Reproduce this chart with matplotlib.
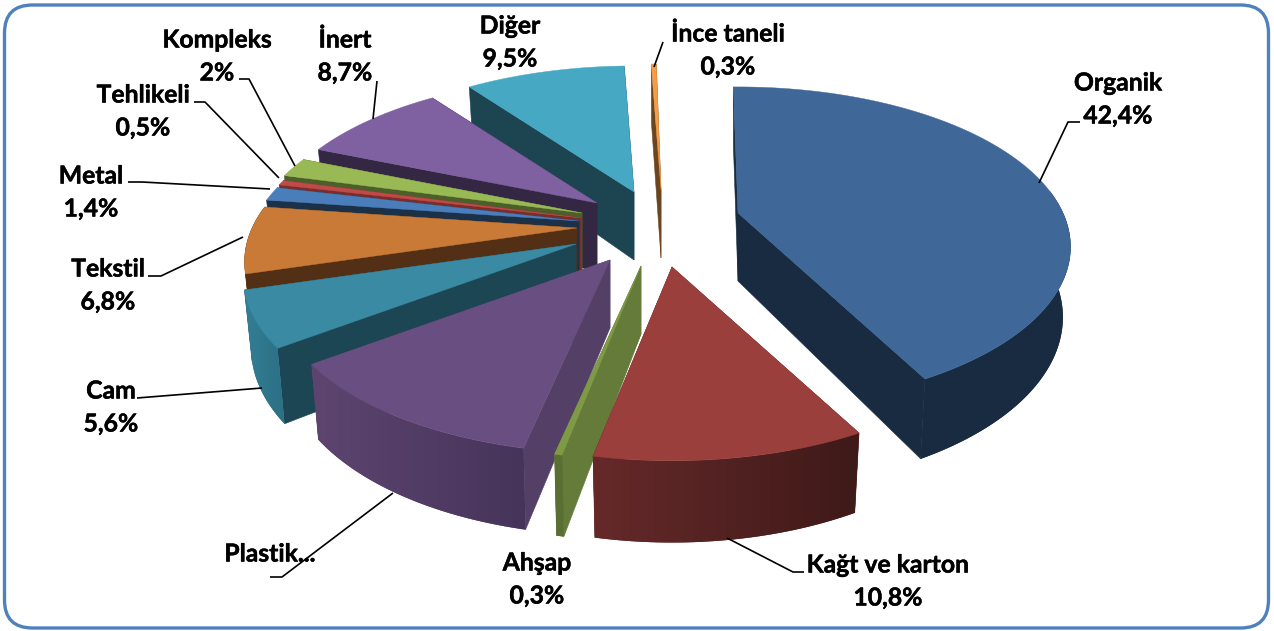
import numpy as np
import matplotlib
matplotlib.use("Agg")
import matplotlib.pyplot as plt
import matplotlib.patheffects as pe
from matplotlib.patches import FancyBboxPatch, Polygon
from matplotlib.colors import to_rgb

# ---- data (clockwise from the top) ----
categories = ["Organik", "Kağt ve karton", "Ahşap", "Plastik", "Cam", "Tekstil",
              "Metal", "Tehlikeli", "Kompleks", "İnert", "Diğer", "İnce taneli"]
values = [42.4, 10.8, 0.3, 11.4, 5.6, 6.8, 1.4, 0.5, 2.0, 8.7, 9.5, 0.3]
value_labels = ["42,4%", "10,8%", "0,3%", "", "5,6%", "6,8%",
                "1,4%", "0,5%", "2%", "8,7%", "9,5%", "0,3%"]

# ---- style ----
top_colors = ["#3F6899", "#9B3F3D", "#7F9A45", "#694F81", "#3A8AA4", "#C87A36",
              "#4A7EBB", "#BE4B48", "#98B954", "#7F60A0", "#47A8C4", "#F59D46"]
face_colors = ["#182B41", "#5A2423", "#647B39", "#544067", "#1D4654", "#532F15",
               "#1C3047", "#7A2D2B", "#4C5F2A", "#332743", "#1C4551", "#6B4520"]
arc_left = ["#182B41", "#66292A", "#5A6F33", "#5D4570", "#337F95", "#532F15",
            "#1C3047", "#7A2D2B", "#4C5F2A", "#332743", "#1C4551", "#6B4520"]
arc_right = ["#182B41", "#3E1A18", "#5A6F33", "#46345A", "#2C6F84", "#532F15",
             "#1C3047", "#7A2D2B", "#4C5F2A", "#332743", "#1C4551", "#6B4520"]
# where each exploded slice's tip lands (layout, in figure pixels)
tip_x = [738, 672, 641, 610, 576, 577, 579, 581, 582, 597, 634, 661]
tip_y = [213, 267, 266, 260, 244, 228, 221, 218, 213, 203, 192, 190]
draw_order = [10, 9, 8, 7, 6, 5, 4, 11, 3, 2, 1, 0]

RADIUS, TILT, CAMERA, DEPTH, BOTTOM_SCALE = 325.0, 0.47, 1536.0, 68.0, 0.977
START_DEG = -1.0

W, H = 1274, 631
fig = plt.figure(figsize=(W / 100, H / 100), dpi=100, facecolor="white")
ax = fig.add_axes([0, 0, 1, 1])
plt.rcParams["font.family"] = ["Lato", "DejaVu Sans"]

ax.add_patch(FancyBboxPatch((4.5, 5), 1264, 623,
                            boxstyle="round,pad=0,rounding_size=28",
                            fc="white", ec="#4F81BD", lw=2.4, zorder=0))


def offset(theta, r):
    u = r * np.sin(theta)
    v = r * np.cos(theta)
    s = CAMERA / (CAMERA + v)
    return u * s, -v * TILT * s, s


def top_pt(i, theta, r=RADIUS):
    dx, dy, _ = offset(theta, r)
    return tip_x[i] + dx, tip_y[i] + dy


def low_pt(i, theta, r=RADIUS):
    dx, dy, s = offset(theta, r)
    return (tip_x[i] + dx * BOTTOM_SCALE,
            tip_y[i] + dy * BOTTOM_SCALE + DEPTH * s)


def gradient(c1, c2, n=64):
    a, b = np.array(to_rgb(c1)), np.array(to_rgb(c2))
    return (a + (b - a) * np.linspace(0, 1, n)[:, None])[None, :, :]


edges = np.cumsum([0] + values) / sum(values) * 2 * np.pi + np.deg2rad(START_DEG)
z = 1
for i in draw_order:
    t0, t1 = edges[i], edges[i + 1]
    thetas = np.linspace(t0, t1, max(int(np.degrees(t1 - t0)) + 2, 3))
    tip_top = (tip_x[i], tip_y[i])
    tip_low = (tip_x[i], tip_y[i] + DEPTH)
    # the two cut faces
    for t in (t0, t1):
        ax.add_patch(Polygon([tip_top, top_pt(i, t), low_pt(i, t), tip_low],
                             fc=face_colors[i], ec=face_colors[i], lw=0.4, zorder=z))
    z += 1
    # the rim (only the part turned towards the viewer), shaded left to right
    vis = thetas[np.cos(thetas) < 0.15]
    if len(vis) >= 2:
        upper = [top_pt(i, t) for t in vis]
        lower = [low_pt(i, t) for t in vis]
        poly = np.array(upper + lower[::-1])
        x0, x1 = poly[:, 0].min(), poly[:, 0].max()
        y0, y1 = poly[:, 1].min(), poly[:, 1].max()
        im = ax.imshow(gradient(arc_left[i], arc_right[i]), extent=(x0, x1, y1, y0),
                       aspect="auto", zorder=z, interpolation="bilinear")
        clip = Polygon(poly, fc=arc_left[i], ec="none", zorder=z - 0.5)
        ax.add_patch(clip)
        im.set_clip_path(clip)
    z += 1
    # the top
    ax.add_patch(Polygon([tip_top] + [top_pt(i, t) for t in thetas],
                         fc=top_colors[i], ec=top_colors[i], lw=0.3, zorder=z))
    z += 1

ax.set_xlim(0, W)
ax.set_ylim(H, 0)
ax.axis("off")

# ---- labels ----
label_x = [1118, 888, 537, 270, 111, 108, 91, 143, 217, 345, 510, 728]
label_y = [83, 565, 563, 554, 391, 269, 176, 95, 40, 40, 26, 34]
label_gap = 33
names = list(categories)
names[3] = "Plastik..."
stroke = [pe.withStroke(linewidth=0.35, foreground="black")]
for n, v, x, y in zip(names, value_labels, label_x, label_y):
    ax.text(x, y, n, ha="center", va="center", fontsize=17.8, fontweight="bold",
            color="black", zorder=500, path_effects=stroke)
    if v:
        ax.text(x, y + label_gap, v, ha="center", va="center", fontsize=17.8,
                fontweight="bold", color="black", zorder=500, path_effects=stroke)

leaders = [
    [(1039, 183), (1068, 122), (1080, 122)],
    [(727, 538), (793, 572), (804, 572)],
    [(393, 493), (282, 577), (270, 577)],
    [(262, 388), (137, 398)],
    [(243, 237), (161, 276), (148, 276)],
    [(270, 189), (142, 182), (128, 182)],
    [(279, 178), (205, 102), (194, 102)],
    [(295, 166), (249, 79), (239, 79)],
    [(373, 119), (377, 81)],
    [(654, 67), (663, 42)],
]
for pts in leaders:
    xs, ys = zip(*pts)
    ax.plot(xs, ys, color="black", lw=1.2, zorder=400, solid_capstyle="butt")

fig.savefig("out.png", dpi=100, facecolor="white")
